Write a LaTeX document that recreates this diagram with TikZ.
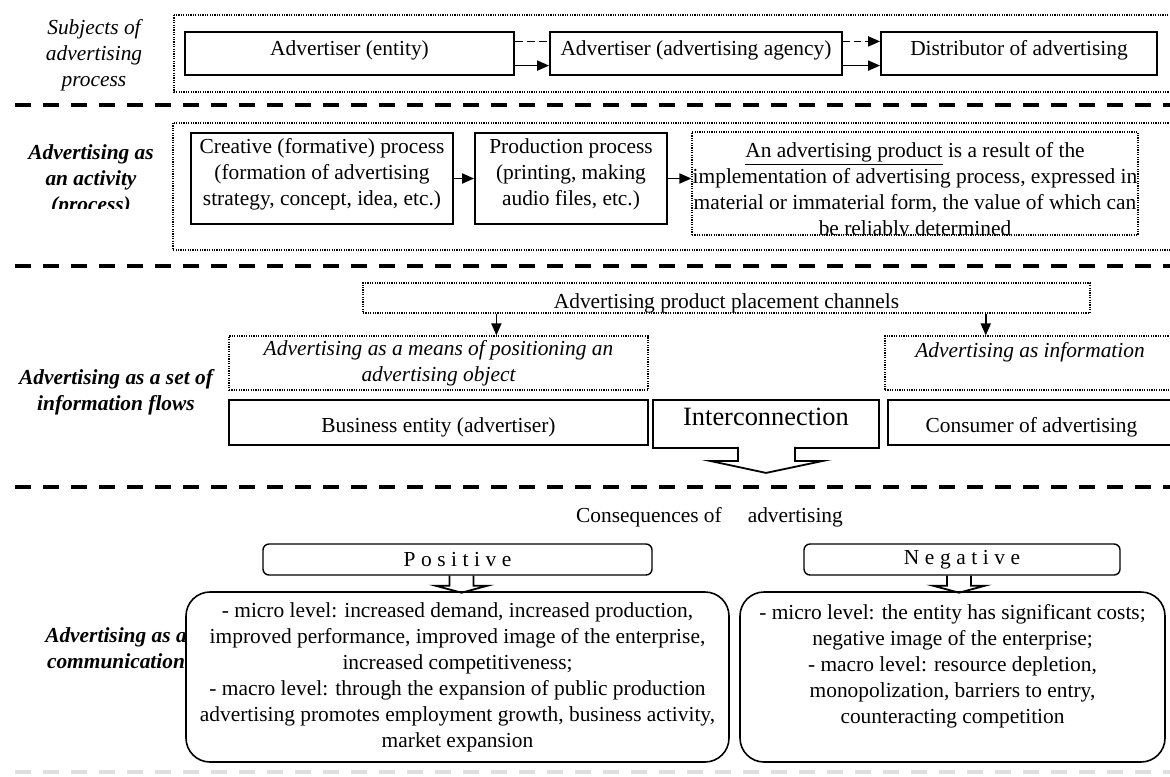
\documentclass[tikz,border=0pt]{standalone}
\usepackage{fontspec}
\setmainfont{Liberation Serif}
\usepackage{tikz}
\usetikzlibrary{arrows.meta, positioning, calc}

\begin{document}
\begin{tikzpicture}[x=0.5pt, y=-0.5pt, >={Triangle[length=6pt, width=5pt]},
    every node/.style={align=center, inner sep=0pt, font=\fontsize{10.7}{13}\selectfont},
    frame/.style={line width=0.6pt, dash pattern=on 0.6pt off 0.6pt},
    dotbox/.style={draw, frame},
    plainbox/.style={draw, line width=0.9pt},
    roundbox/.style={draw, line width=0.8pt, rounded corners=12pt, fill=white},
    tagbox/.style={draw, line width=0.7pt, rounded corners=3pt},
    sepline/.style={line width=2.2pt, dash pattern=on 8pt off 6pt},
    rowlabel/.style={font=\fontsize{10.7}{13}\selectfont\itshape},
    boldlabel/.style={font=\fontsize{10.7}{13}\selectfont\bfseries\itshape},
    link/.style={line width=0.9pt}]
    \useasboundingbox (0,0) rectangle (1170,776);
    \def\spaced{\addfontfeature{LetterSpace=26}}
    \def\shifted#1#2{\raisebox{#1}[\height][\depth]{#2}}

    \draw[sepline] (15,105) -- (1175,105);
    \draw[sepline] (15,266) -- (1175,266);
    \draw[sepline] (15,487) -- (1175,487);
    \draw[sepline, gray!25] (15,772) -- (1175,772);

    \node[rowlabel] (subjects) at (94,55) {Subjects of\\advertising\\process};
    \draw[frame] (174,15) rectangle (1175,92);
    \begin{scope}[every node/.append style={plainbox, minimum height=21.5pt}]
        \node[minimum width=164.5pt] (adv1) at (349.5,53.5) {\shifted{1.5pt}{Advertiser (entity)}};
        \node[minimum width=146pt] (adv2) at (696,53.5) {\shifted{1.5pt}{Advertiser (advertising agency)}};
        \node[minimum width=138pt] (dist) at (1019,53.5) {\shifted{1.5pt}{Distributor of advertising}};
    \end{scope}
    \draw[link, dash pattern=on 4pt off 2pt] ($(adv1.north east)!0.23!(adv1.south east)$) -- ($(adv2.north west)!0.23!(adv2.south west)$);
    \draw[link, ->] ($(adv1.north east)!0.77!(adv1.south east)$) -- ($(adv2.north west)!0.77!(adv2.south west)$);
    \draw[link, ->, dash pattern=on 3.5pt off 2pt] ($(adv2.north east)!0.23!(adv2.south east)$) -- ($(dist.north west)!0.23!(dist.south west)$);
    \draw[link, ->] ($(adv2.north east)!0.77!(adv2.south east)$) -- ($(dist.north west)!0.77!(dist.south west)$);

    \begin{scope}
        \clip (0,110) rectangle (172,208);
        \node[boldlabel] (activity) at (91,180) {Advertising as\\an activity\\(process)};
    \end{scope}
    \draw[frame] (173,123) rectangle (1175,250);
    \begin{scope}[every node/.append style={plainbox, minimum height=45.5pt}]
        \node[minimum width=131pt] (creative) at (322,178.5) {\shifted{2pt}{Creative (formative) process}\\\shifted{2pt}{(formation of advertising}\\\shifted{2pt}{strategy, concept, idea, etc.)}};
        \node[minimum width=96pt] (production) at (571,178.5) {\shifted{2pt}{Production process}\\\shifted{2pt}{(printing, making}\\\shifted{2pt}{audio files, etc.)}};
    \end{scope}
    \node[dotbox, minimum width=223pt, minimum height=51.5pt] (product) at (915,183.5) {};
    \begin{scope}
        \clip (product.south west) rectangle (product.north east);
        \node (producttext) at (915,191) {\underline{An advertising product} is a result of the\\implementation of advertising process, expressed in\\material or immaterial form, the value of which can\\be reliably determined};
    \end{scope}
    \draw[link, ->] (creative.east) -- (production.west);
    \draw[link, ->] (production.east) -- (production.east -| product.west);

    \node[dotbox, minimum width=363.5pt, minimum height=15pt] (channels) at (726.5,298) {\shifted{-2.5pt}{Advertising product placement channels}};
    \node[boldlabel] (flows) at (116,392.5) {Advertising as a set of\\information flows};
    \begin{scope}[every node/.append style={dotbox, rowlabel, minimum height=27pt}]
        \node[minimum width=209.5pt] (means) at (438.5,363) {Advertising as a means of positioning an\\advertising object};
        \node[minimum width=145pt] (info) at (1030,363) {Advertising as information\\\mbox{}};
    \end{scope}
    \coordinate (chanleft) at ($(channels.south west)!0.184!(channels.south east)$);
    \coordinate (chanright) at ($(channels.south west)!0.856!(channels.south east)$);
    \draw[link, ->] (chanleft) -- (chanleft |- means.north);
    \draw[link, ->] (chanright) -- (chanright |- info.north);
    \begin{scope}[every node/.append style={plainbox, minimum height=22.5pt}]
        \node[minimum width=209.5pt] (business) at (438.5,422.5) {\shifted{-2.5pt}{Business entity (advertiser)}};
        \node[minimum width=143.5pt] (consumer) at (1031.5,422.5) {\shifted{-2.5pt}{Consumer of advertising}};
        \node[minimum width=113pt, minimum height=24pt, font=\fontsize{13.2}{15}\selectfont] (inter) at (766,424) {\shifted{3.5pt}{Interconnection}};
    \end{scope}
    \draw[link, fill=white] ($(inter.south)+(-28,-2)$) -- ++(0,14) -- ++(-28,0) -- ++(56,12) -- ++(57,-12) -- ++(-28,0) -- ++(0,-14);

    \node (consequences) at (709.5,517) {Consequences of\hspace{13pt}advertising};
    \begin{scope}[every node/.append style={tagbox, minimum height=15.5pt}]
        \node[minimum width=194.5pt] (positive) at (457.5,559.5) {\spaced Positive};
        \node[minimum width=158pt] (negative) at (962,559.5) {\spaced Negative};
    \end{scope}
    \node[boldlabel] (communication) at (116,648) {Advertising as a\\communication};
    \begin{scope}[every node/.append style={roundbox, minimum height=85pt}]
        \node[minimum width=271.5pt] (posfx) at (457.5,677) {- micro level: increased demand, increased production,\\improved performance, improved image of the enterprise,\\increased competitiveness;\\- macro level: through the expansion of public production\\advertising promotes employment growth, business activity,\\market expansion};
        \node[minimum width=212.5pt] (negfx) at (952.5,677) {- micro level: the entity has significant costs;\\negative image of the enterprise;\\- macro level: resource depletion,\\monopolization, barriers to entry,\\counteracting competition\\\mbox{}};
    \end{scope}
    \draw[link] ($(positive.south)+(-8,0)$) -- ++(0,10) -- ++(-14,0) -- ++(26,7) -- ++(26,-7) -- ++(-14,0) -- ++(0,-10);
    \draw[link] ($(negative.south)+(-15,0)$) -- ++(0,10) -- ++(-14,0) -- ++(26,7) -- ++(26,-7) -- ++(-14,0) -- ++(0,-10);
\end{tikzpicture}
\end{document}
